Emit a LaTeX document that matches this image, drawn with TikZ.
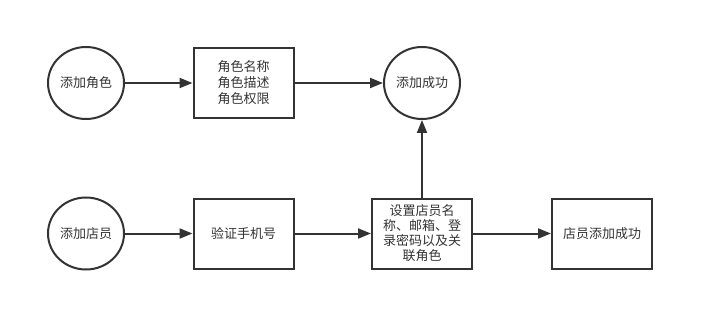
\documentclass[tikz,border=0pt]{standalone}
\usepackage{fontspec}
\setmainfont{Noto Sans CJK SC}
\usetikzlibrary{arrows.meta,shapes.geometric}
\definecolor{ln}{HTML}{333333}
\tikzset{
  circ/.style={draw=ln, line width=2pt, ellipse, minimum width=76pt, minimum height=72pt, inner sep=0pt, font=\fontsize{13}{16}\selectfont, text=ln},
  box/.style={draw=ln, line width=2pt, rectangle, minimum width=100pt, minimum height=70pt, inner sep=0pt, align=center, font=\fontsize{13}{16}\selectfont, text=ln},
  conn/.style={draw=ln, line width=2pt, -{Triangle[length=13pt,width=10pt]}}
}
\begin{document}
\begin{tikzpicture}[x=1pt,y=-1pt]
\useasboundingbox (0,0) rectangle (714,331);
\node[circ] (c1) at (86,83) {添加角色};
\node[box] (r1) at (243.5,83) {角色名称\\角色描述\\角色权限};
\node[circ] (c2) at (422,83) {添加成功};
\node[circ] (c3) at (86,233.5) {添加店员};
\node[box] (r2) at (243.5,233.5) {验证手机号};
\node[box, font=\fontsize{13}{15}\selectfont] (r3) at (422,233.5) {设置店员名\\称、邮箱、登\\录密码以及关\\联角色};
\node[box] (r4) at (602,233.5) {店员添加成功};
\draw[conn] (c1) -- (r1);
\draw[conn] (r1) -- (c2);
\draw[conn] (c3) -- (r2);
\draw[conn] (r2) -- (r3);
\draw[conn] (r3) -- (r4);
\draw[conn] (r3) -- (c2);
\end{tikzpicture}
\end{document}
